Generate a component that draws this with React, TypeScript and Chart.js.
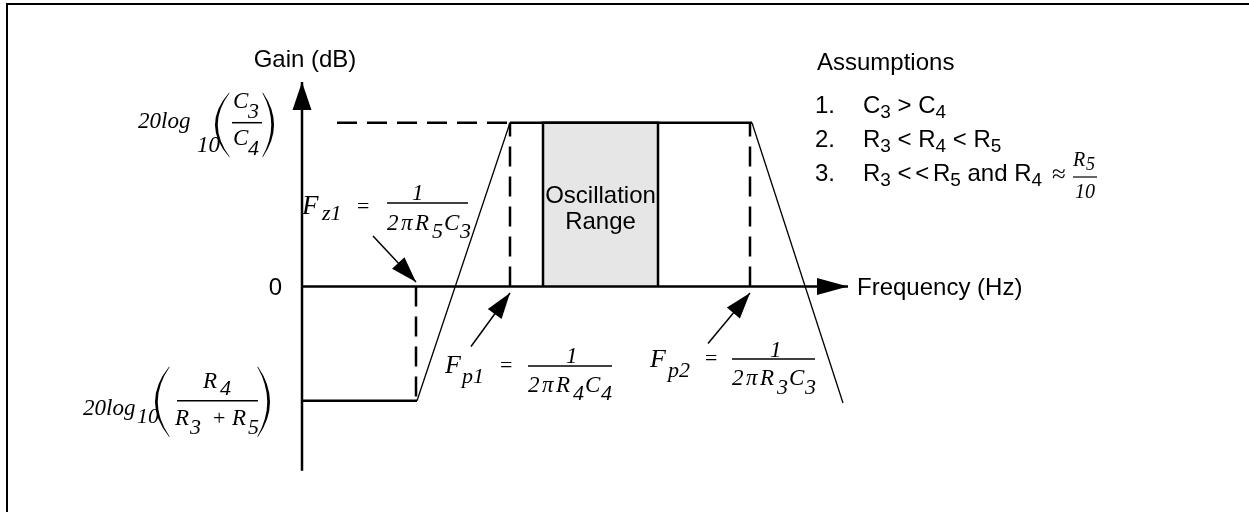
import { useEffect, useRef } from "react";
import { Chart, registerables } from "chart.js";

Chart.register(...registerables);

// Gain levels (dB)
const GAIN_HIGH = 20.0; // 20log10(C3/C4)
const GAIN_LOW = -13.94; // 20log10(R4/(R3+R5))
const GAIN_AXIS = [-22.49, 24.97];

// Frequency positions, in decades past the axis origin
const F_Z1 = 1.14;
const F_RISE = 1.15;
const F_P1 = 2.08;
const F_P2 = 4.48;
const F_FALL = 4.5;
const FALL_END = { x: 5.41, y: -14.22 };
const OSC_RANGE = [2.41, 3.56];
const FREQ_AXIS_END = 5.46;
const GUIDE_START = 0.35;

// Pointer arrows (tail, tip)
const ARROW_Z1 = [{ x: 0.71, y: 6.17 }, { x: 1.14, y: 0.55 }];
const ARROW_P1 = [{ x: 1.69, y: -7.33 }, { x: 2.08, y: -0.79 }];
const ARROW_P2 = [{ x: 4.06, y: -6.96 }, { x: 4.48, y: -0.79 }];

// Plot window
const X_RANGE = [-3.02, 9.47];
const Y_RANGE = [-27.53, 34.98];

// Plain labels
const AXIS_Y_TITLE = "Gain (dB)";
const AXIS_X_TITLE = "Frequency (Hz)";
const ZERO_LABEL = "0";
const BAND_LABEL = ["Oscillation", "Range"];
const NOTES_TITLE = "Assumptions";
// [text, subscript?, kerning]
const NOTES: { n: string; runs: [string, number, number?][] }[] = [
  { n: "1.", runs: [["C", 0], ["3", 1], [" > C", 0], ["4", 1]] },
  { n: "2.", runs: [["R", 0], ["3", 1], [" < R", 0], ["4", 1], [" < R", 0], ["5", 1]] },
  { n: "3.", runs: [["R", 0], ["3", 1], [" <", 0], [" <", 0, -3], [" R", 0, -3], ["5", 1], [" and R", 0], ["4", 1]] },
];

const SANS = '"Liberation Sans", Arial, sans-serif';
const SERIF = '"Liberation Serif", "Times New Roman", serif';
const SANS_SIZE = 24;
const SUB_SIZE = 19;

type Piece = { t: string; dx: number; dy: number; size?: number; upright?: boolean };
type Rule = { x0: number; x1: number; dy: number; w?: number };
type Paren = { dx: number; w: number; top: number; bot: number; open: boolean };
type Formula = { at: { x: number; y: number }; pieces: Piece[]; rules: Rule[]; parens: Paren[] };

const denom = (sub1: string, sub2: string, base: number, low: number): Piece[] => [
  { t: "2", dx: 0, dy: base },
  { t: "π", dx: 14, dy: base },
  { t: "R", dx: 28, dy: base },
  { t: sub1, dx: 45, dy: low, size: 22 },
  { t: "C", dx: 57, dy: base },
  { t: sub2, dx: 73, dy: low, size: 22 },
];

const FORMULAS: Formula[] = [
  // 20log10(C3/C4)
  {
    at: { x: -0.7, y: GAIN_HIGH },
    pieces: [
      { t: "20log", dx: -94, dy: 5 },
      { t: "10", dx: -35, dy: 29 },
      { t: "C", dx: 1, dy: -15 },
      { t: "3", dx: 16, dy: -5, size: 22 },
      { t: "C", dx: 1, dy: 22 },
      { t: "4", dx: 16, dy: 32, size: 22 },
    ],
    rules: [{ x0: 0, x1: 30, dy: 0 }],
    parens: [
      { dx: -17, w: 14, top: -30, bot: 34, open: true },
      { dx: 31, w: 11, top: -30, bot: 34, open: false },
    ],
  },
  // 20log10(R4/(R3+R5))
  {
    at: { x: -1.25, y: GAIN_LOW },
    pieces: [
      { t: "20log", dx: -94, dy: 14 },
      { t: "10", dx: -40, dy: 22, size: 22 },
      { t: "R", dx: 26, dy: -13 },
      { t: "4", dx: 43, dy: -6, size: 22 },
      { t: "R", dx: -2, dy: 24 },
      { t: "3", dx: 13, dy: 33, size: 22 },
      { t: "+", dx: 36, dy: 24, size: 22, upright: true },
      { t: "R", dx: 55, dy: 24 },
      { t: "5", dx: 71, dy: 33, size: 22 },
    ],
    rules: [{ x0: 0, x1: 81, dy: 0 }],
    parens: [
      { dx: -22, w: 14, top: -34, bot: 36, open: true },
      { dx: 81, w: 12, top: -34, bot: 36, open: false },
    ],
  },
  // Fz1 = 1/(2πR5C3)
  {
    at: { x: 0.85, y: 10.2 },
    pieces: [
      { t: "F", dx: -85, dy: 11, size: 27 },
      { t: "z1", dx: -65, dy: 17, size: 22 },
      { t: "=", dx: -30, dy: 10, size: 22, upright: true },
      { t: "1", dx: 25, dy: -3 },
      ...denom("5", "3", 27, 35),
    ],
    rules: [{ x0: 0, x1: 81, dy: 0 }],
    parens: [],
  },
  // Fp1 = 1/(2πR4C4)
  {
    at: { x: 2.26, y: -9.71 },
    pieces: [
      { t: "F", dx: -83, dy: 7, size: 26 },
      { t: "p1", dx: -66, dy: 17, size: 22 },
      { t: "=", dx: -28, dy: 6, size: 22, upright: true },
      { t: "1", dx: 38, dy: -3 },
      ...denom("4", "4", 26, 34),
    ],
    rules: [{ x0: 0, x1: 84, dy: 0 }],
    parens: [],
  },
  // Fp2 = 1/(2πR3C3)
  {
    at: { x: 4.3, y: -8.85 },
    pieces: [
      { t: "F", dx: -82, dy: 8, size: 26 },
      { t: "p2", dx: -64, dy: 18, size: 22 },
      { t: "=", dx: -27, dy: 6, size: 22, upright: true },
      { t: "1", dx: 38, dy: -2 },
      ...denom("3", "3", 26, 35),
    ],
    rules: [{ x0: 0, x1: 83, dy: 0 }],
    parens: [],
  },
  // ≈ R5/10
  {
    at: { x: 7.71, y: 13.37 },
    pieces: [
      { t: "≈", dx: -21, dy: 5, size: 25, upright: true },
      { t: "R", dx: 0, dy: -11, size: 20 },
      { t: "5", dx: 13, dy: -7, size: 18 },
      { t: "10", dx: 2, dy: 21, size: 20 },
    ],
    rules: [{ x0: 0, x1: 24, dy: 0, w: 1.2 }],
    parens: [],
  },
];

// Sans label anchors (data units)
const Y_TITLE_AT = { x: 0.03, y: 26.8 };
const ZERO_AT = { x: -0.2, y: -1.04 };
const X_TITLE_AT = { x: 5.55, y: -1.04 };
const BAND_AT = [{ x: 2.985, y: 10.2 }, { x: 2.985, y: 7.02 }];
const NOTES_TITLE_AT = { x: 5.15, y: 26.43 };
const NOTES_NUM_X = 5.13;
const NOTES_TEXT_X = 5.61;
const NOTES_Y = [21.18, 17.03, 12.88];

const seg = (data: { x: number; y: number }[], extra: Record<string, unknown> = {}) => ({
  data,
  showLine: true,
  pointRadius: 0,
  borderColor: "#000",
  borderWidth: 2.5,
  fill: false,
  tension: 0,
  borderCapStyle: "butt",
  ...extra,
});

const DASH = [20, 10];

function buildDatasets() {
  return [
    // axes
    seg([{ x: 0, y: GAIN_AXIS[0] }, { x: 0, y: GAIN_AXIS[1] }], { arrowHead: { len: 28, half: 9.5 } }),
    seg([{ x: 0, y: 0 }, { x: FREQ_AXIS_END, y: 0 }], { arrowHead: { len: 31, half: 8.5 } }),
    // response: low shelf, rising edge, top shelf, falling edge
    seg([{ x: 0, y: GAIN_LOW }, { x: F_RISE, y: GAIN_LOW }]),
    seg([{ x: F_RISE, y: GAIN_LOW }, { x: F_P1, y: GAIN_HIGH }], { borderWidth: 1.3 }),
    seg([{ x: F_P1, y: GAIN_HIGH }, { x: F_FALL, y: GAIN_HIGH }]),
    seg([{ x: F_FALL, y: GAIN_HIGH }, FALL_END], { borderWidth: 1.3 }),
    // dashed guides
    seg([{ x: GUIDE_START, y: GAIN_HIGH }, { x: F_P1, y: GAIN_HIGH }], { borderDash: DASH }),
    seg([{ x: F_Z1, y: 0 }, { x: F_Z1, y: GAIN_LOW }], { borderDash: DASH }),
    seg([{ x: F_P1, y: 0 }, { x: F_P1, y: GAIN_HIGH }], { borderDash: DASH }),
    seg([{ x: F_P2, y: 0 }, { x: F_P2, y: GAIN_HIGH }], { borderDash: DASH }),
    // pointer arrows
    seg(ARROW_Z1, { borderWidth: 1.5, arrowHead: { len: 26, half: 8.5 } }),
    seg(ARROW_P1, { borderWidth: 1.5, arrowHead: { len: 26, half: 8.5 } }),
    seg(ARROW_P2, { borderWidth: 1.5, arrowHead: { len: 26, half: 8.5 } }),
    // oscillation band
    seg(
      [
        { x: OSC_RANGE[0], y: 0 },
        { x: OSC_RANGE[0], y: GAIN_HIGH },
        { x: OSC_RANGE[1], y: GAIN_HIGH },
        { x: OSC_RANGE[1], y: 0 },
      ],
      { fill: "origin", backgroundColor: "#e6e6e6", order: 10 }
    ),
  ];
}

function drawParen(ctx: CanvasRenderingContext2D, x: number, top: number, bot: number, w: number, open: boolean) {
  const mid = (top + bot) / 2;
  const t = 2.4;
  ctx.beginPath();
  if (open) {
    ctx.moveTo(x + w, top);
    ctx.quadraticCurveTo(x - w, mid, x + w, bot);
    ctx.lineTo(x + w + 0.7, bot);
    ctx.quadraticCurveTo(x - w + 2 * t, mid, x + w + 0.7, top);
  } else {
    ctx.moveTo(x, top);
    ctx.quadraticCurveTo(x + 2 * w, mid, x, bot);
    ctx.lineTo(x - 0.7, bot);
    ctx.quadraticCurveTo(x + 2 * w - 2 * t, mid, x - 0.7, top);
  }
  ctx.closePath();
  ctx.fill();
}

const decorPlugin = {
  id: "decor",
  afterDatasetsDraw(chart: any) {
    const ctx: CanvasRenderingContext2D = chart.ctx;
    const sx = chart.scales.x;
    const sy = chart.scales.y;
    const px = (v: number) => sx.getPixelForValue(v);
    const py = (v: number) => sy.getPixelForValue(v);
    ctx.save();
    ctx.fillStyle = "#000";
    ctx.strokeStyle = "#000";

    // arrow heads at the end of flagged lines
    chart.data.datasets.forEach((ds: any, i: number) => {
      if (!ds.arrowHead) return;
      const pts = chart.getDatasetMeta(i).data;
      const a = pts[pts.length - 2];
      const b = pts[pts.length - 1];
      const ang = Math.atan2(b.y - a.y, b.x - a.x);
      const c = Math.cos(ang);
      const s = Math.sin(ang);
      const bx = b.x - ds.arrowHead.len * c;
      const by = b.y - ds.arrowHead.len * s;
      const h = ds.arrowHead.half;
      ctx.beginPath();
      ctx.moveTo(b.x, b.y);
      ctx.lineTo(bx - h * s, by + h * c);
      ctx.lineTo(bx + h * s, by - h * c);
      ctx.closePath();
      ctx.fill();
    });

    // sans labels
    ctx.textBaseline = "alphabetic";
    ctx.font = `${SANS_SIZE}px ${SANS}`;
    ctx.textAlign = "center";
    ctx.fillText(AXIS_Y_TITLE, px(Y_TITLE_AT.x), py(Y_TITLE_AT.y));
    BAND_LABEL.forEach((t, i) => ctx.fillText(t, px(BAND_AT[i].x), py(BAND_AT[i].y)));
    ctx.textAlign = "right";
    ctx.fillText(ZERO_LABEL, px(ZERO_AT.x), py(ZERO_AT.y));
    ctx.textAlign = "left";
    ctx.fillText(AXIS_X_TITLE, px(X_TITLE_AT.x), py(X_TITLE_AT.y));
    ctx.fillText(NOTES_TITLE, px(NOTES_TITLE_AT.x), py(NOTES_TITLE_AT.y));
    NOTES.forEach((item, i) => {
      const base = py(NOTES_Y[i]);
      ctx.font = `${SANS_SIZE}px ${SANS}`;
      ctx.fillText(item.n, px(NOTES_NUM_X), base);
      let x = px(NOTES_TEXT_X);
      item.runs.forEach(([t, sub, kern]) => {
        x += kern || 0;
        ctx.font = `${sub ? SUB_SIZE : SANS_SIZE}px ${SANS}`;
        ctx.fillText(t, x, base + (sub ? 5 : 0));
        x += ctx.measureText(t).width;
      });
    });

    // formulas
    FORMULAS.forEach((f) => {
      const ax = px(f.at.x);
      const ay = py(f.at.y);
      f.pieces.forEach((p) => {
        ctx.font = `${p.upright ? "" : "italic "}${p.size || 23}px ${SERIF}`;
        ctx.fillText(p.t, ax + p.dx, ay + p.dy);
      });
      f.rules.forEach((r) => {
        ctx.lineWidth = r.w || 1.5;
        ctx.beginPath();
        ctx.moveTo(ax + r.x0, ay + r.dy);
        ctx.lineTo(ax + r.x1, ay + r.dy);
        ctx.stroke();
      });
      f.parens.forEach((p) => drawParen(ctx, ax + p.dx, ay + p.top, ay + p.bot, p.w, p.open));
    });
    ctx.restore();
  },
};

export default function App() {
  const ref = useRef<HTMLCanvasElement | null>(null);
  useEffect(() => {
    if (!ref.current) return;
    const chart = new Chart(ref.current, {
      type: "scatter",
      data: { datasets: buildDatasets() as any },
      options: {
        animation: false,
        responsive: false,
        devicePixelRatio: 1,
        events: [],
        layout: { padding: 0, autoPadding: false } as any,
        plugins: { legend: { display: false }, tooltip: { enabled: false }, title: { display: false } },
        scales: {
          x: { type: "linear", min: X_RANGE[0], max: X_RANGE[1], display: false },
          y: { type: "linear", min: Y_RANGE[0], max: Y_RANGE[1], display: false },
        },
      },
      plugins: [decorPlugin],
    });
    return () => chart.destroy();
  }, []);
  return (
    <div style={{ position: "fixed", left: 0, top: 0, width: 1249, height: 512, background: "#fff", overflow: "hidden" }}>
      <div
        style={{
          position: "absolute",
          left: 6,
          top: 3,
          width: 1260,
          height: 520,
          borderLeft: "2px solid #000",
          borderTop: "2px solid #000",
        }}
      />
      <canvas ref={ref} width={1249} height={512} style={{ position: "absolute", left: 0, top: 0, display: "block" }} />
    </div>
  );
}
